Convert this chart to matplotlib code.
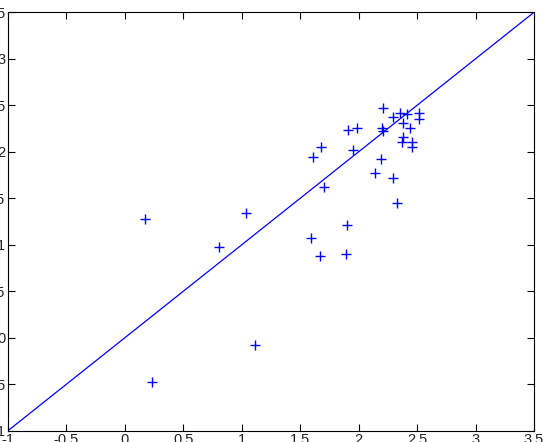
import numpy as np
import matplotlib.pyplot as plt

plt.rcParams['font.family'] = ['Liberation Sans', 'DejaVu Sans']

x_vals = [0.172, 0.234, 0.802, 1.036, 1.113, 1.592, 1.669, 1.606, 1.675, 1.703,
          1.897, 1.891, 1.911, 1.988, 1.949, 2.139, 2.188, 2.197, 2.210, 2.205,
          2.291, 2.325, 2.296, 2.353, 2.411, 2.381, 2.513, 2.513, 2.441, 2.381,
          2.368, 2.453, 2.453]
y_vals = [1.277, -0.481, 0.973, 1.339, -0.077, 1.070, 0.883, 1.947, 2.055, 1.625,
          1.213, 0.901, 2.234, 2.253, 2.019, 1.775, 1.926, 2.253, 2.224, 2.468,
          1.722, 1.446, 2.377, 2.414, 2.403, 2.306, 2.414, 2.353, 2.253, 2.162,
          2.109, 2.109, 2.055]

# identity line
line_x = [-1, 3.5]
line_y = [-1, 3.5]

xticks = [-1, -0.5, 0, 0.5, 1, 1.5, 2, 2.5, 3, 3.5]
yticks = [-1, -0.5, 0, 0.5, 1, 1.5, 2, 2.5, 3, 3.5]

fig = plt.figure(figsize=(5.43, 4.42), dpi=100)
ax = fig.add_axes([8 / 543, 11.3 / 442, 526 / 543, 418.4 / 442])

ax.plot(x_vals, y_vals, '+', color='#0000ff', markersize=7, markeredgewidth=1.0)
ax.plot(line_x, line_y, '-', color='#0000ff', linewidth=0.9)

ax.set_xlim(-1, 3.5)
ax.set_ylim(-1, 3.5)
ax.set_xticks(xticks)
ax.set_yticks(yticks)
ax.set_xticklabels([str(t) for t in xticks])
ax.set_yticklabels([str(t) for t in yticks])
ax.tick_params(direction='in', top=True, right=True, length=5, width=0.8,
               labelsize=10.5, pad=2, labelcolor='#222222')
for s in ax.spines.values():
    s.set_linewidth(0.8)

fig.savefig('out.png', dpi=100)
